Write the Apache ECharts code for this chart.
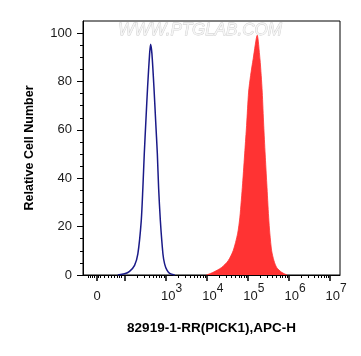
<!DOCTYPE html>
<html><head><meta charset="utf-8">
<script src="https://cdn.jsdelivr.net/npm/echarts@6/dist/echarts.min.js"></script>
<style>html,body{margin:0;padding:0;background:#fff}#c{width:361px;height:356px}</style>
</head><body><div id="c"></div>
<script>
// x positions in decade units of the biexponential display (10^n -> n)
const blueX = [1.837, 2.0, 2.122, 2.244, 2.324, 2.407, 2.446, 2.480, 2.520, 2.561, 2.610, 2.634, 2.666, 2.715, 2.756, 2.798, 2.829, 2.871, 2.934, 2.976, 3.032, 3.098, 3.22];
const blueY = [0, 0.5, 1.5, 4, 8.7, 22.5, 36, 50, 64, 77.7, 91.5, 95.4, 91.5, 77.7, 64, 50, 36, 22.5, 8.7, 4.5, 2, 0.7, 0];
const redX = [3.993, 4.154, 4.359, 4.520, 4.641, 4.749, 4.805, 4.871, 4.927, 4.968, 5.017, 5.066, 5.129, 5.227, 5.293, 5.324, 5.349, 5.385, 5.420, 5.460, 5.505, 5.535, 5.578, 5.634, 5.700, 5.822, 5.951];
const redY = [0, 1.1, 3.1, 5.9, 10, 17, 23.9, 37.7, 51.5, 61.8, 75.6, 82.5, 89.4, 99.1, 89.4, 82.5, 75.6, 61.8, 50, 37.7, 23.9, 17, 10, 5.9, 3.1, 1.1, 0];

const xLabelValues = [1.334, 3, 4, 5, 6, 7];
const xLabelExp = [null, 3, 4, 5, 6, 7];
const xMajorTicks = [1.334, 2, 3, 4, 5, 6, 7];
const xZeroRegionMinor = [1.122, 1.171, 1.220, 1.268, 1.366, 1.415, 1.495, 1.602, 1.683, 1.756, 1.822, 1.878, 1.927];
const xDecades = [2, 3, 4, 5, 6];
const yLabels = [0, 20, 40, 60, 80, 100];
const yMinor = [5, 10, 15, 25, 30, 35, 45, 50, 55, 65, 70, 75, 85, 90, 95];

const xMinor = xZeroRegionMinor.slice();
xDecades.forEach(d => { for (let k = 2; k <= 9; k++) xMinor.push(d + Math.log10(k)); });

const FONT = '"Liberation Sans", Arial, sans-serif';
const XMIN = 0.99, XMAX = 7.24, YMIN = 0, YMAX = 105;

const chart = echarts.init(document.getElementById('c'), null, {renderer: 'canvas'});
chart.setOption({
  animation: false,
  backgroundColor: '#fff',
  grid: {left: 83, right: 21, top: 21, bottom: 81, show: true, borderColor: '#000', borderWidth: 1, backgroundColor: 'transparent'},
  xAxis: [{
    type: 'value', min: XMIN, max: XMAX, position: 'bottom',
    name: '82919-1-RR(PICK1),APC-H', nameLocation: 'middle', nameGap: 46,
    nameTextStyle: {fontWeight: 'bold', fontSize: 13.5, color: '#000', fontFamily: FONT},
    axisLine: {show: true, lineStyle: {color: '#000', width: 1}},
    axisTick: {show: true, length: 6, customValues: xMajorTicks, lineStyle: {color: '#000', width: 1.5}},
    splitLine: {show: false},
    axisLabel: {
      margin: 8, customValues: xLabelValues, color: '#1a1a1a', fontFamily: FONT,
      formatter: function (v) {
        let i = xLabelValues.findIndex(a => Math.abs(a - v) < 1e-6);
        if (i < 0) return '';
        if (xLabelExp[i] === null) return '{z|0}';
        return '{p|}{b|10}{s|' + xLabelExp[i] + '}';
      },
      rich: {
        z: {fontSize: 13, lineHeight: 20, verticalAlign: 'bottom', fontFamily: FONT, color: '#1a1a1a'},
        p: {width: 12, lineHeight: 20},
        b: {fontSize: 13, lineHeight: 20, verticalAlign: 'bottom', fontFamily: FONT, color: '#1a1a1a'},
        s: {fontSize: 12, lineHeight: 20, verticalAlign: 'top', fontFamily: FONT, color: '#1a1a1a'}
      }
    }
  }, {
    type: 'value', min: XMIN, max: XMAX, position: 'bottom', offset: 0,
    axisLine: {show: false}, axisLabel: {show: false}, splitLine: {show: false},
    axisTick: {show: true, length: 3, customValues: xMinor, lineStyle: {color: '#000', width: 1}}
  }],
  yAxis: [{
    type: 'value', min: YMIN, max: YMAX, position: 'left',
    name: 'Relative Cell Number', nameLocation: 'middle', nameGap: 47,
    nameTextStyle: {fontWeight: 'bold', fontSize: 12.5, color: '#000', fontFamily: FONT},
    axisLine: {show: true, lineStyle: {color: '#000', width: 1}},
    axisTick: {show: true, length: 6, customValues: yLabels, lineStyle: {color: '#000', width: 1}},
    axisLabel: {margin: 11, customValues: yLabels, fontSize: 13, color: '#1a1a1a', fontFamily: FONT},
    splitLine: {show: false}
  }, {
    type: 'value', min: YMIN, max: YMAX, position: 'left', offset: 0,
    axisLine: {show: false}, axisLabel: {show: false}, splitLine: {show: false},
    axisTick: {show: true, length: 3, customValues: yMinor, lineStyle: {color: '#000', width: 1}}
  }],
  graphic: [{
    type: 'text', x: 200, y: 30.5, z: 1,
    style: {text: 'WWW.PTGLAB.COM', fontSize: 17, fontStyle: 'italic', fontFamily: FONT,
      align: 'center', verticalAlign: 'middle', fill: '#f5f5f5', stroke: '#cccccc', lineWidth: 0.8}
  }],
  series: [{
    type: 'line', xAxisIndex: 0, yAxisIndex: 0, smooth: 0.25, showSymbol: false,
    data: redX.map((x, i) => [x, redY[i]]),
    lineStyle: {color: '#ff3333', width: 0.8}, itemStyle: {color: '#ff3333'},
    areaStyle: {color: '#ff3333', opacity: 1}, z: 3
  }, {
    type: 'line', xAxisIndex: 0, yAxisIndex: 0, smooth: 0.25, showSymbol: false,
    data: blueX.map((x, i) => [x, blueY[i]]),
    lineStyle: {color: '#1a1a88', width: 1.5}, itemStyle: {color: '#1a1a88'}, z: 4
  }]
});
</script></body></html>
